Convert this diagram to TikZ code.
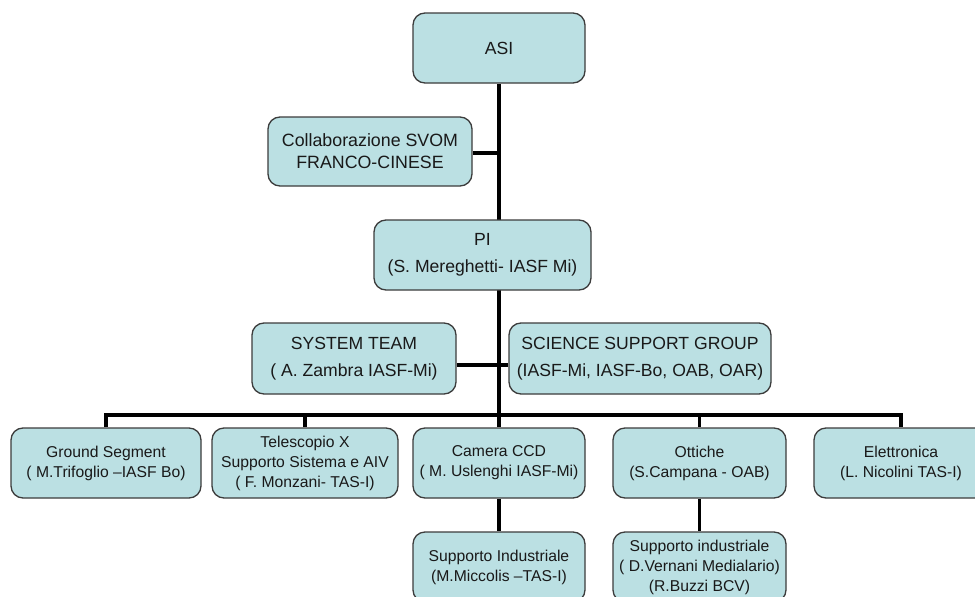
\documentclass[tikz,border=0pt]{standalone}
\usepackage{fontspec}
\setmainfont{Liberation Sans}
\usetikzlibrary{backgrounds}
\definecolor{boxfill}{RGB}{187,224,227}
\definecolor{boxdraw}{RGB}{60,60,60}
\definecolor{txt}{RGB}{25,25,25}
\tikzset{
  orgbox/.style={draw=boxdraw, line width=1.3pt, fill=boxfill, rounded corners=12pt,
    align=center, inner sep=0pt, text=txt},
  midtext/.style={font=\fontsize{17.6}{27}\selectfont},
  lowtext/.style={font=\fontsize{15.7}{20}\selectfont},
  link/.style={line width=3.5pt, draw=black}
}
\begin{document}
\begin{tikzpicture}[x=1pt, y=-1pt]
\useasboundingbox (0,0) rectangle (975,597);
\clip (0,0) rectangle (975,597);

\node[orgbox, midtext, minimum width=172pt, minimum height=70pt] (asi) at (499,48) {ASI};
\node[orgbox, font=\fontsize{17.8}{22}\selectfont, minimum width=204pt, minimum height=69pt] (collab) at (370,151.5) {Collaborazione SVOM\\FRANCO-CINESE};
\node[orgbox, midtext, minimum width=217pt, minimum height=70pt] (pi) at (482.5,255) {PI\\(S. Mereghetti- IASF Mi)};
\node[orgbox, midtext, minimum width=204pt, minimum height=71pt] (sys) at (354,358.5) {SYSTEM TEAM\\( A. Zambra IASF-Mi)};
\node[orgbox, midtext, minimum width=262pt, minimum height=71pt] (sci) at (640,358.5) {SCIENCE SUPPORT GROUP\\(IASF-Mi, IASF-Bo, OAB, OAR)};

\node[orgbox, lowtext, minimum width=190pt, minimum height=70pt] (gs) at (106,463) {Ground Segment\\( M.Trifoglio --IASF Bo)};
\node[orgbox, lowtext, minimum width=186pt, minimum height=70pt] (tel) at (305,463) {Telescopio X\\Supporto Sistema e AIV\\( F. Monzani- TAS-I)};
\node[orgbox, lowtext, minimum width=172pt, minimum height=70pt] (cam) at (499,463) {Camera CCD\\( M. Uslenghi IASF-Mi)};
\node[orgbox, lowtext, minimum width=173pt, minimum height=70pt] (ott) at (699.5,463) {Ottiche\\(S.Campana - OAB)};
\node[orgbox, lowtext, minimum width=174pt, minimum height=70pt] (ele) at (901,463) {Elettronica\\(L. Nicolini TAS-I)};
\node[orgbox, lowtext, minimum width=172pt, minimum height=70pt] (sup1) at (499,567) {Supporto Industriale\\(M.Miccolis --TAS-I)};
\node[orgbox, lowtext, minimum width=173pt, minimum height=70pt] (sup2) at (699.5,567) {Supporto industriale\\( D.Vernani Medialario)\\(R.Buzzi BCV)};

\coordinate (bus) at (499,415);

\begin{pgfonlayer}{background}
\fill[white] (0,0) rectangle (975,597);
\draw[link] (asi.south) -- (bus);
\draw[link] ([yshift=-1.5pt]collab.east) -- ([yshift=-1.5pt]collab.east -| asi.south);
\draw[link] ([yshift=-6.5pt]sys.east) -- ([yshift=-6.5pt]sci.west);
\draw[link] (gs.north) |- (ele.north |- bus) -- (ele.north);
\draw[link] (tel.north) -- (tel.north |- bus);
\draw[link] (cam.north) -- (cam.north |- bus);
\draw[link] (ott.north) -- (ott.north |- bus);
\draw[link] (cam.south) -- (sup1.north);
\draw[link] (ott.south) -- (sup2.north);
\end{pgfonlayer}
\end{tikzpicture}
\end{document}
